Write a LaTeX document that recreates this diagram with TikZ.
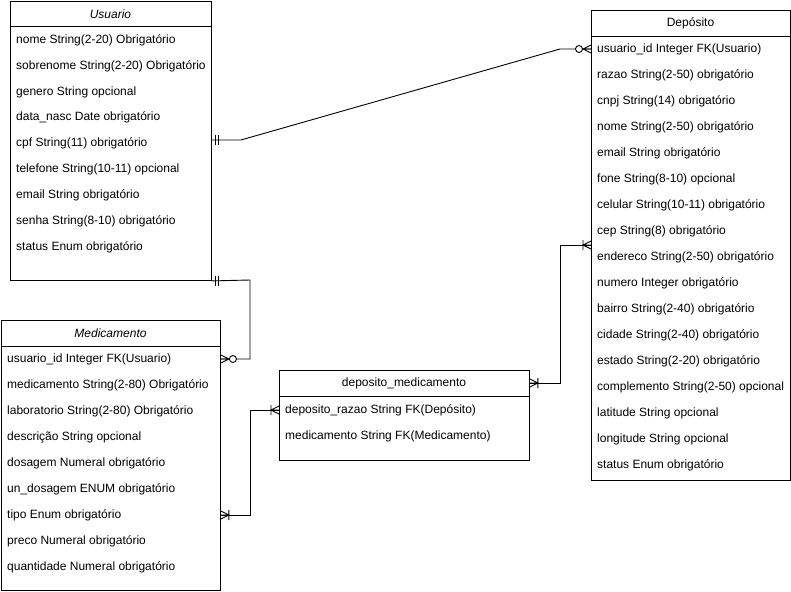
\documentclass[tikz,border=0pt]{standalone}
\usepackage{fontspec}
\setmainfont{Liberation Sans}
\usetikzlibrary{calc}

\tikzset{
  entity/.style = {draw, line width = 0.9pt, anchor = north west, inner sep = 0pt},
  row/.style = {anchor = west, inner sep = 0pt},
  rel/.style = {line width = 0.9pt},
  mandone/.pic = {\draw[rel] (4,-5) -- (4,5) (7,-5) -- (7,5);},
  zeromany/.pic = {\draw[rel] (0,-4) -- (8,0) -- (0,4) (0,0) -- (8,0);
                   \draw[rel, fill = white] (12,0) circle [radius = 3.5pt];},
  onemany/.pic = {\draw[rel] (0,-4) -- (8,0) -- (0,4) (0,0) -- (8,0) (8,-5) -- (8,5);}
}

\begin{document}
\fontsize{12}{14}\selectfont
\begin{tikzpicture} [x = 1pt, y = -1pt]
\useasboundingbox (0,0) rectangle (791,591);

% Usuario
\node[entity, minimum width = 201pt, minimum height = 279pt] (usuario) at (10,1) {};
\draw[rel] (usuario.west |- 0,26) -- (usuario.east |- 0,26);
\node[font = \itshape] (usuario-h) at (110.5,14) {Usuario};
\node[row] (usuario-1) at (16,40) {nome String(2-20) Obrigatório};
\node[row] (usuario-2) at (16,66) {sobrenome String(2-20) Obrigatório};
\node[row] (usuario-3) at (16,92) {genero String opcional};
\node[row] (usuario-4) at (16,117) {data\_nasc Date obrigatório};
\node[row] (usuario-5) at (16,143) {cpf String(11) obrigatório};
\node[row] (usuario-6) at (16,169) {telefone String(10-11) opcional};
\node[row] (usuario-7) at (16,195) {email String obrigatório};
\node[row] (usuario-8) at (16,221) {senha String(8-10) obrigatório};
\node[row] (usuario-9) at (16,247) {status Enum obrigatório};

% Medicamento
\node[entity, minimum width = 219pt, minimum height = 270pt] (medicamento) at (1,320) {};
\draw[rel] (medicamento.west |- 0,346) -- (medicamento.east |- 0,346);
\node[font = \itshape] (medicamento-h) at (110.5,333) {Medicamento};
\node[row] (medicamento-1) at (7,359) {usuario\_id Integer FK(Usuario)};
\node[row] (medicamento-2) at (7,385) {medicamento String(2-80) Obrigatório};
\node[row] (medicamento-3) at (7,411) {laboratorio String(2-80) Obrigatório};
\node[row] (medicamento-4) at (7,437) {descrição String opcional};
\node[row] (medicamento-5) at (7,463) {dosagem Numeral obrigatório};
\node[row] (medicamento-6) at (7,489) {un\_dosagem ENUM obrigatório};
\node[row] (medicamento-7) at (7,515) {tipo Enum obrigatório};
\node[row] (medicamento-8) at (7,541) {preco Numeral obrigatório};
\node[row] (medicamento-9) at (7,567) {quantidade Numeral obrigatório};

% deposito_medicamento
\node[entity, minimum width = 250pt, minimum height = 90pt] (depmed) at (279,370) {};
\draw[rel] (depmed.west |- 0,396) -- (depmed.east |- 0,396);
\node (depmed-h) at (404,383) {deposito\_medicamento};
\node[row] (depmed-1) at (285,410) {deposito\_razao String FK(Depósito)};
\node[row] (depmed-2) at (285,436) {medicamento String FK(Medicamento)};

% Deposito
\node[entity, minimum width = 199pt, minimum height = 470pt] (deposito) at (591,10) {};
\draw[rel] (deposito.west |- 0,36) -- (deposito.east |- 0,36);
\node (deposito-h) at (690.5,23) {Depósito};
\node[row] (deposito-1) at (597,49) {usuario\_id Integer FK(Usuario)};
\node[row] (deposito-2) at (597,75) {razao String(2-50) obrigatório};
\node[row] (deposito-3) at (597,101) {cnpj String(14) obrigatório};
\node[row] (deposito-4) at (597,127) {nome String(2-50) obrigatório};
\node[row] (deposito-5) at (597,153) {email String obrigatório};
\node[row] (deposito-6) at (597,179) {fone String(8-10) opcional};
\node[row] (deposito-7) at (597,205) {celular String(10-11) obrigatório};
\node[row] (deposito-8) at (597,231) {cep String(8) obrigatório};
\node[row] (deposito-9) at (597,257) {endereco String(2-50) obrigatório};
\node[row] (deposito-10) at (597,283) {numero Integer obrigatório};
\node[row] (deposito-11) at (597,309) {bairro String(2-40) obrigatório};
\node[row] (deposito-12) at (597,335) {cidade String(2-40) obrigatório};
\node[row] (deposito-13) at (597,361) {estado String(2-20) obrigatório};
\node[row] (deposito-14) at (597,387) {complemento String(2-50) opcional};
\node[row] (deposito-15) at (597,413) {latitude String opcional};
\node[row] (deposito-16) at (597,439) {longitude String opcional};
\node[row] (deposito-17) at (597,465) {status Enum obrigatório};

% relations
\coordinate (u-d) at (usuario.east |- 0,140);
\coordinate (d-dm) at (deposito.west |- 0,245);
\draw[rel] (u-d) -- ++(29,0) -- (560,49) -- (deposito.west |- deposito-1);
\draw[rel] (usuario.south east) -- (250,280) -- (250,359) -- (medicamento.east |- medicamento-1);
\draw[rel] (medicamento.east |- medicamento-7) -- (250,515) -- (250,410) -- (depmed.west |- depmed-1);
\draw[rel] (depmed.east |- depmed-h) -- (560,383) -- (560,245) -- (d-dm);

\pic at (u-d) {mandone};
\pic[xscale = -1] at (deposito.west |- deposito-1) {zeromany};
\pic at (usuario.south east) {mandone};
\pic at (medicamento.east |- medicamento-1) {zeromany};
\pic at (medicamento.east |- medicamento-7) {onemany};
\pic[xscale = -1] at (depmed.west |- depmed-1) {onemany};
\pic at (depmed.east |- depmed-h) {onemany};
\pic[xscale = -1] at (d-dm) {onemany};
\end{tikzpicture}
\end{document}
